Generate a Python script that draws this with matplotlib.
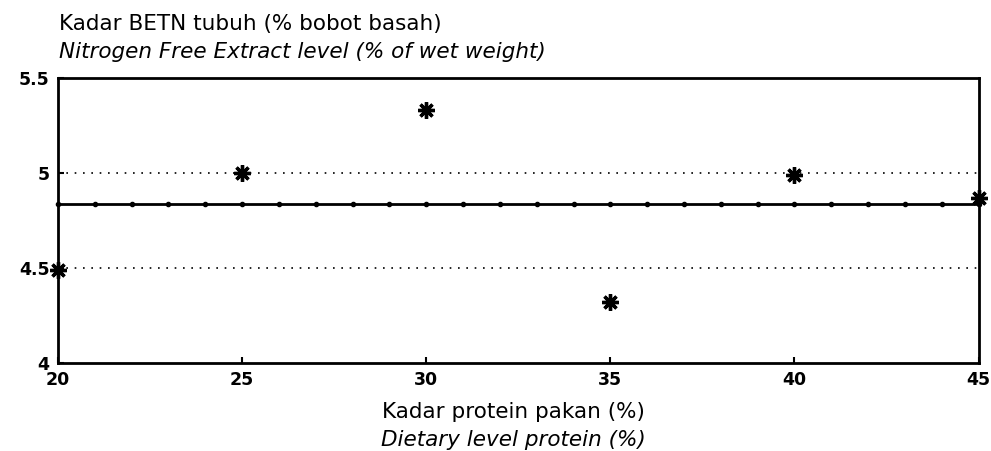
import numpy as np
import matplotlib
matplotlib.use('Agg')
import matplotlib.pyplot as plt

plt.rcParams['font.family'] = ['DejaVu Sans']

# data
protein = [20, 25, 30, 35, 40, 45]
betn = [4.49, 5.0, 5.33, 4.32, 4.99, 4.87]
fit_x = list(range(20, 46))
fit_level = 4.835

fig = plt.figure(figsize=(9.91, 4.51), dpi=100)
ax = fig.add_axes([0.0585, 0.195, 0.929, 0.632])

# dotted reference lines
for yv in [4.5, 5.0]:
    ax.axhline(yv, color='black', lw=1.2, ls=(0, (1, 4)))

# flat regression line with dot markers
ax.plot(fit_x, [fit_level] * len(fit_x), color='black', lw=2,
        marker='o', ms=3, clip_on=False)

# observations
ax.plot(protein, betn, ls='none', marker=(8, 2, 0), ms=12, mew=2.4,
        color='black', clip_on=False)

ax.set_xlim(20, 45)
ax.set_ylim(4, 5.5)
ax.set_xticks([20, 25, 30, 35, 40, 45])
ax.set_yticks([4, 4.5, 5, 5.5])
ax.set_yticklabels(['4', '4.5', '5', '5.5'])
ax.tick_params(direction='in', length=4, width=1.5, pad=6)
for lab in ax.get_xticklabels() + ax.get_yticklabels():
    lab.set_fontweight('heavy')
    lab.set_fontsize(12.5)
for s in ax.spines.values():
    s.set_linewidth(2)

fig.text(0.06, 0.933, 'Kadar BETN tubuh (% bobot basah)', fontsize=15.5)
fig.text(0.06, 0.872, 'Nitrogen Free Extract level (% of wet weight)',
         fontsize=15.5, style='italic')
fig.text(0.518, 0.073, 'Kadar protein pakan (%)', fontsize=15.5, ha='center')
fig.text(0.518, 0.012, 'Dietary level protein (%)', fontsize=15.5,
         ha='center', style='italic')

plt.savefig('out.png', dpi=100)
